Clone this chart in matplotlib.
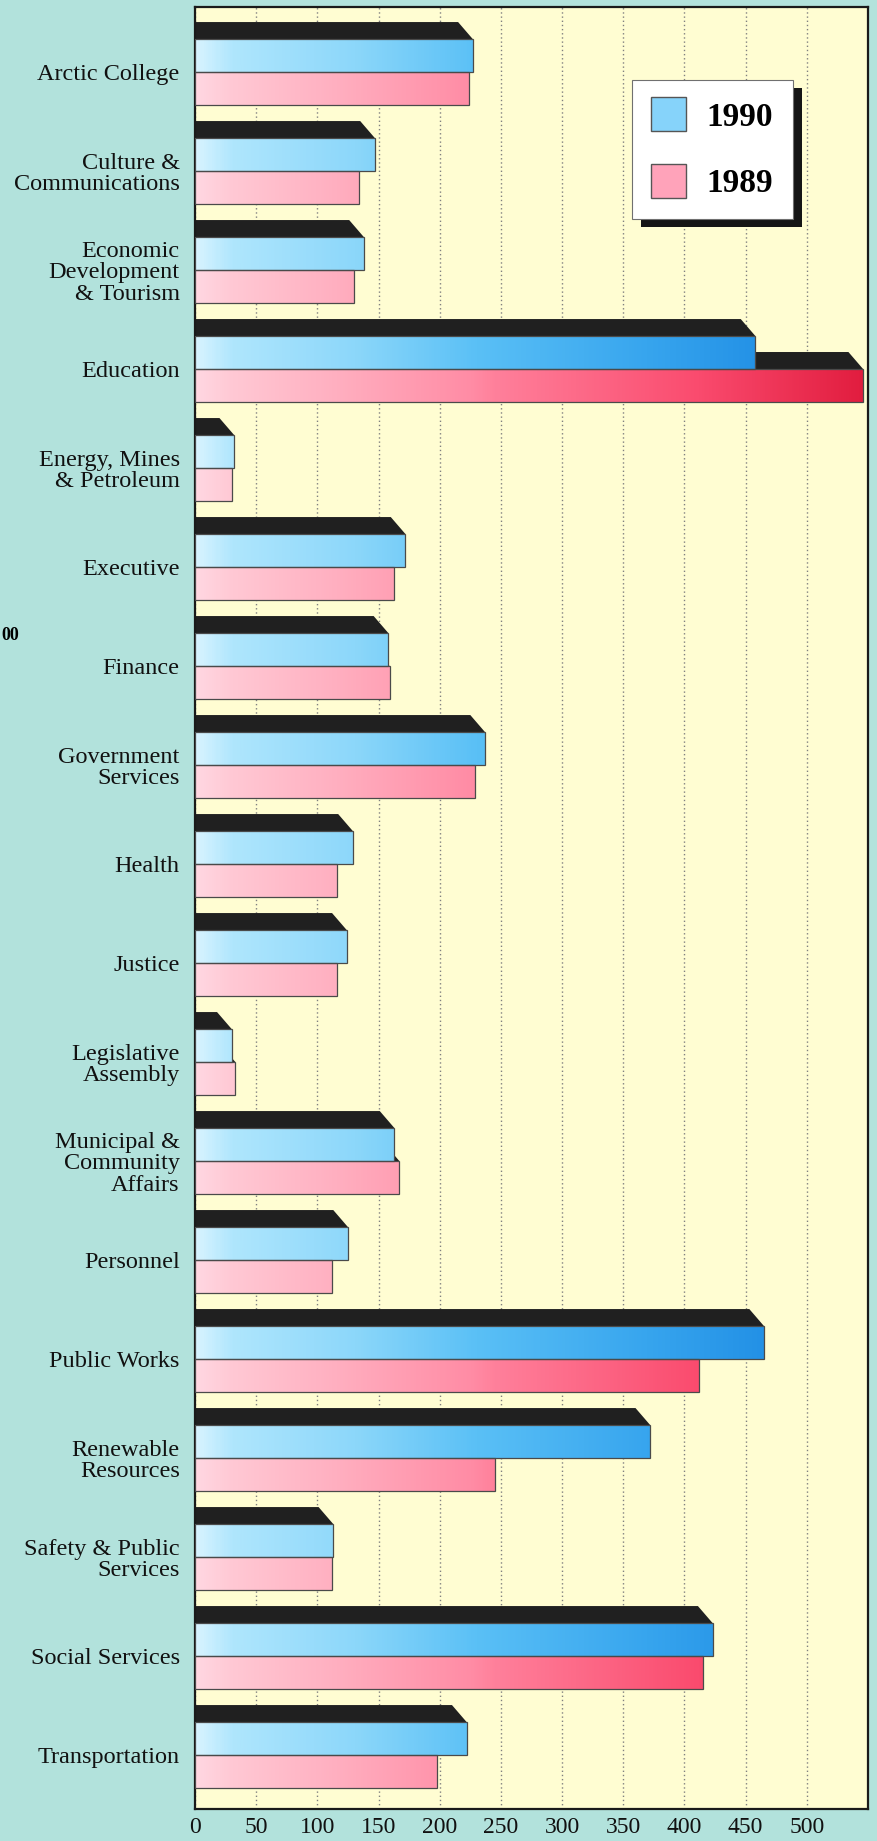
import numpy as np
import matplotlib
matplotlib.use('Agg')
import matplotlib.pyplot as plt
from matplotlib.colors import LinearSegmentedColormap
from matplotlib.patches import Rectangle, Polygon, PathPatch
from matplotlib.path import Path

departments = ["Arctic College", "Culture &\nCommunications", "Economic\nDevelopment\n& Tourism",
               "Education", "Energy, Mines\n& Petroleum", "Executive", "Finance",
               "Government\nServices", "Health", "Justice", "Legislative\nAssembly",
               "Municipal &\nCommunity\nAffairs", "Personnel", "Public Works",
               "Renewable\nResources", "Safety & Public\nServices", "Social Services",
               "Transportation"]
spend_1990 = [227, 147, 138, 458, 32, 172, 158, 237, 129, 124, 30, 163, 125, 465, 372, 113, 423, 222]
spend_1989 = [224, 134, 130, 546, 30, 163, 159, 229, 116, 116, 33, 167, 112, 412, 245, 112, 415, 198]
years = ["1990", "1989"]

plt.rcParams['font.family'] = ['Liberation Serif', 'DejaVu Serif']

W, H = 878, 1841
XMAX = 550
fig = plt.figure(figsize=(W / 100, H / 100), dpi=100, facecolor='#B2E2DC')
ax = fig.add_axes([195 / W, 32 / H, 673 / W, 1802 / H])
ax.set_facecolor('#FFFDD2')

bar_h = 0.333
face_h = 0.172
slant = 12
ypos = np.arange(len(departments))

# gradient colour ramps along the value axis
blue_cmap = LinearSegmentedColormap.from_list('blue3d', [
    (0.0, (215/255, 243/255, 1.0)), (30/XMAX, (175/255, 230/255, 253/255)),
    (130/XMAX, (140/255, 215/255, 250/255)), (230/XMAX, (90/255, 192/255, 246/255)),
    (370/XMAX, (55/255, 165/255, 238/255)), (465/XMAX, (35/255, 145/255, 230/255)),
    (1.0, (25/255, 130/255, 220/255))])
pink_cmap = LinearSegmentedColormap.from_list('pink3d', [
    (0.0, (1.0, 215/255, 225/255)), (30/XMAX, (1.0, 200/255, 212/255)),
    (115/XMAX, (1.0, 175/255, 192/255)), (225/XMAX, (1.0, 140/255, 165/255)),
    (245/XMAX, (1.0, 128/255, 155/255)), (412/XMAX, (250/255, 75/255, 110/255)),
    (1.0, (225/255, 28/255, 62/255))])

# dark 3d tops (1989 top is hidden behind the 1990 bar)
for yi, v in zip(ypos, spend_1989):
    ax.add_patch(Polygon([(-slant, yi - face_h), (v - slant, yi - face_h), (v, yi), (0, yi)],
                         closed=True, fc='#202020', ec='none', zorder=2))
for yi, v in zip(ypos, spend_1990):
    top = yi - bar_h
    ax.add_patch(Polygon([(-slant, top - face_h), (v - slant, top - face_h), (v, top), (0, top)],
                         closed=True, fc='#202020', ec='none', zorder=2))


def bar_paths(values, offset):
    paths = []
    for yi, v in zip(ypos, values):
        y0, y1 = yi + offset, yi + offset + bar_h
        paths.append(Path([(0, y0), (v, y0), (v, y1), (0, y1), (0, y0)],
                          [Path.MOVETO, Path.LINETO, Path.LINETO, Path.LINETO, Path.CLOSEPOLY]))
    return Path.make_compound_path(*paths)


ramp = np.linspace(0, XMAX, 600).reshape(1, -1)
for values, offset, cmap in [(spend_1989, 0, pink_cmap), (spend_1990, -bar_h, blue_cmap)]:
    im = ax.imshow(ramp, cmap=cmap, extent=(0, XMAX, len(departments), -1),
                   aspect='auto', zorder=3, interpolation='bilinear')
    im.set_clip_path(PathPatch(bar_paths(values, offset), transform=ax.transData))
    for yi, v in zip(ypos, values):
        ax.add_patch(Rectangle((0, yi + offset), v, bar_h, fill=False,
                               ec='#4a4a4a', lw=0.9, zorder=4))

ax.set_xlim(0, XMAX)
ax.set_ylim(17.545, -0.657)
ax.set_xticks(range(0, 501, 50))
ax.set_yticks(ypos)
ax.set_yticklabels(departments)
for t in ax.get_yticklabels():
    t.set_linespacing(1.05)
ax.tick_params(axis='y', length=0, pad=11, labelsize=17.5, labelcolor='#111111')
ax.tick_params(axis='x', length=0, pad=6, labelsize=17, labelcolor='#111111')
ax.grid(axis='x', color='#808080', linestyle=(0, (1, 2)), lw=1.0)
ax.set_axisbelow(True)
for s in ax.spines.values():
    s.set_linewidth(1.6)
    s.set_color('#1a1a1a')


# legend drawn by hand in figure pixels (top-left origin)
def fx(x):
    return x / W


def fy(y):
    return 1 - y / H


fig.add_artist(Rectangle((fx(641), fy(227)), fx(161), 139 / H, transform=fig.transFigure,
                         fc='#151515', ec='none', zorder=5))
fig.add_artist(Rectangle((fx(632), fy(219)), fx(161), 139 / H, transform=fig.transFigure,
                         fc='white', ec='#707070', lw=0.8, zorder=6))
for (yy, col, lab) in [(97, '#86D3FA', years[0]), (164, '#FFA3BA', years[1])]:
    fig.add_artist(Rectangle((fx(651), fy(yy + 34)), fx(35), 34 / H, transform=fig.transFigure,
                             fc=col, ec='#555555', lw=1.0, zorder=7))
    fig.text(fx(706), fy(yy + 20), lab, fontsize=24, fontweight='bold', ha='left',
             va='center', zorder=8)

# stray fragment from the neighbouring page
fig.text(fx(1), fy(636), "00", fontsize=13, fontweight='bold', ha='left', va='center')

fig.savefig('out.png', dpi=100, facecolor=fig.get_facecolor())
